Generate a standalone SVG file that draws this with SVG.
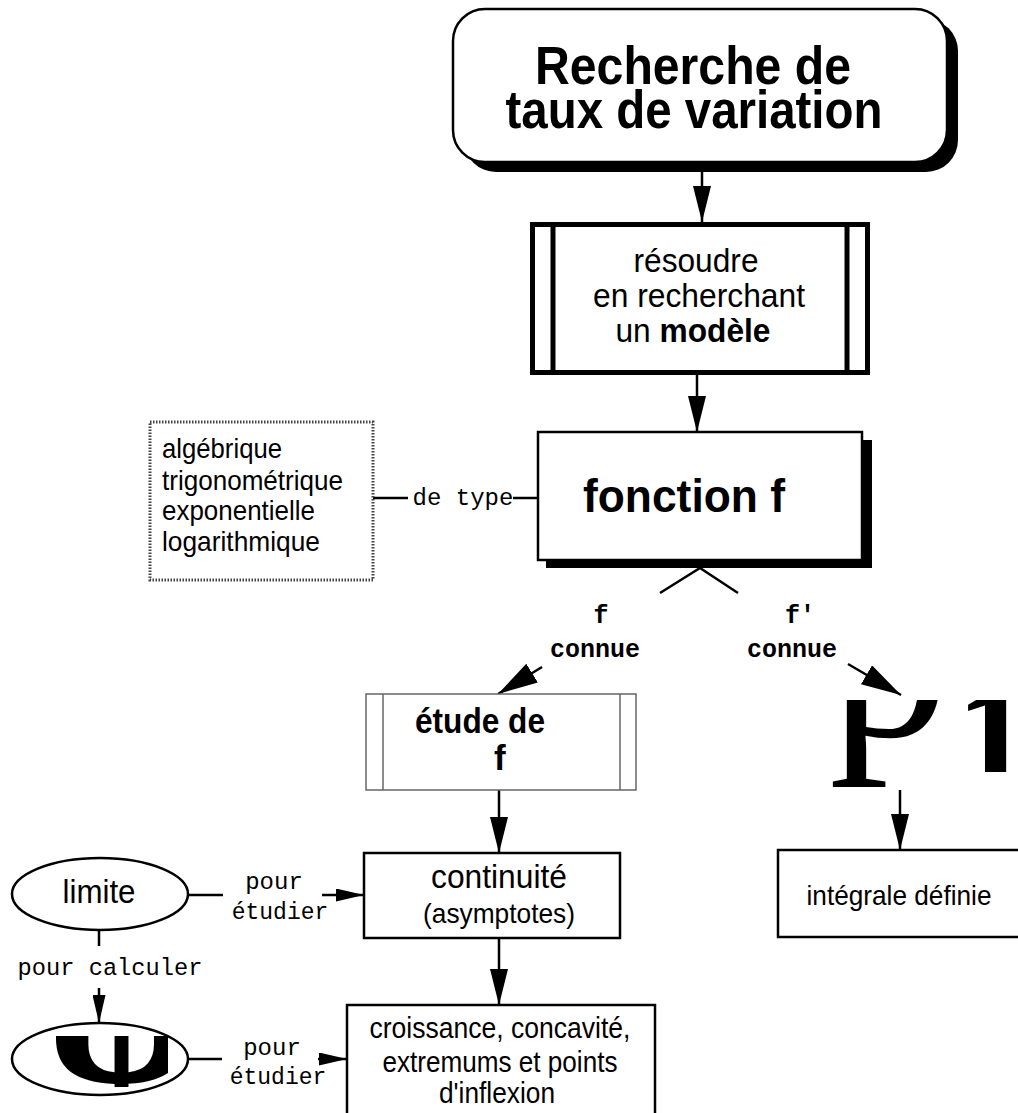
<svg xmlns="http://www.w3.org/2000/svg" width="1018" height="1113" viewBox="0 0 1018 1113">
<style>
  .sans{font-family:"Liberation Sans",Arial,sans-serif;fill:#000}
  .mono{font-family:"Liberation Mono","Courier New",monospace;fill:#000}
  .box{fill:#fff;stroke:#000;stroke-width:2.5}
  .thick{fill:none;stroke:#000;stroke-width:5}
  .thin{fill:#fff;stroke:#666;stroke-width:1.5}
  .con{fill:none;stroke:#000;stroke-width:2.5}
  .blob{font-family:"Liberation Serif","Times New Roman",serif;fill:#000}
</style>
<defs>
  <marker id="ahV" markerUnits="userSpaceOnUse" markerWidth="36" markerHeight="18" refX="36" refY="9" orient="auto">
    <path d="M0,0 L36,9 L0,18 z" fill="#000"/>
  </marker>
  <marker id="ahD" markerUnits="userSpaceOnUse" markerWidth="40" markerHeight="22" refX="40" refY="11" orient="auto">
    <path d="M0,0 L40,11 L0,22 z" fill="#000"/>
  </marker>
  <marker id="ahS" markerUnits="userSpaceOnUse" markerWidth="28" markerHeight="13" refX="28" refY="6.5" orient="auto">
    <path d="M0,0 L28,6.5 L0,13 z" fill="#000"/>
  </marker>
  <clipPath id="clipP"><rect x="820" y="700" width="135" height="90"/></clipPath>
  <clipPath id="clip1"><rect x="958" y="700" width="55" height="72"/></clipPath>
  <clipPath id="clipL"><rect x="56" y="1036" width="112" height="51"/></clipPath>
</defs>
<rect width="1018" height="1113" fill="#fff"/>

<g id="connectors">
  <line class="con" x1="702" y1="170" x2="702" y2="222" marker-end="url(#ahV)"/>
  <line class="con" x1="697" y1="375" x2="697" y2="432" marker-end="url(#ahV)"/>
  <line class="con" x1="373" y1="498" x2="408" y2="498"/>
  <line class="con" x1="513" y1="498" x2="538" y2="498"/>
  <polyline class="con" points="660,593 700,568 738,593"/>
  <line class="con" x1="542" y1="667" x2="498" y2="694" marker-end="url(#ahD)"/>
  <line class="con" x1="848" y1="664" x2="901" y2="695" marker-end="url(#ahD)"/>
  <line class="con" x1="499" y1="790" x2="499" y2="853" marker-end="url(#ahV)"/>
  <line class="con" x1="499" y1="938" x2="499" y2="1005" marker-end="url(#ahV)"/>
  <line class="con" x1="188" y1="895" x2="223" y2="895"/>
  <line class="con" x1="322" y1="895" x2="364" y2="895" marker-end="url(#ahS)"/>
  <line class="con" x1="99" y1="930" x2="99" y2="946"/>
  <line class="con" x1="99" y1="988" x2="99" y2="1023" marker-end="url(#ahS)"/>
  <line class="con" x1="188" y1="1059" x2="222" y2="1059"/>
  <line class="con" x1="318" y1="1059" x2="347" y2="1059" marker-end="url(#ahS)"/>
  <line class="con" x1="900" y1="790" x2="900" y2="850" marker-end="url(#ahV)"/>
  <text class="mono" x="463" y="505" font-size="24" text-anchor="middle">de type</text>
  <text class="mono" x="601" y="623" font-size="25" font-weight="bold" text-anchor="middle">f</text>
  <text class="mono" x="595" y="657" font-size="25" font-weight="bold" text-anchor="middle">connue</text>
  <text class="mono" x="800" y="623" font-size="25" font-weight="bold" text-anchor="middle">f'</text>
  <text class="mono" x="792" y="657" font-size="25" font-weight="bold" text-anchor="middle">connue</text>
  <text class="mono" x="274" y="889" font-size="24" text-anchor="middle">pour</text>
  <text class="mono" x="280" y="919" font-size="23" text-anchor="middle">étudier</text>
  <text class="mono" x="110" y="975" font-size="23.7" text-anchor="middle">pour calculer</text>
  <text class="mono" x="272" y="1055" font-size="24" text-anchor="middle">pour</text>
  <text class="mono" x="278" y="1084" font-size="23" text-anchor="middle">étudier</text>
</g>

<g id="n-recherche">
  <rect x="464" y="19" width="494" height="153" rx="32" fill="#000"/>
  <rect class="box" x="453" y="9" width="494" height="153" rx="32"/>
  <text class="sans" x="693" y="84" font-size="54" font-weight="bold" text-anchor="middle" textLength="316" lengthAdjust="spacingAndGlyphs">Recherche de</text>
  <text class="sans" x="694" y="128" font-size="54" font-weight="bold" text-anchor="middle" textLength="377" lengthAdjust="spacingAndGlyphs">taux de variation</text>
</g>

<g id="n-resoudre">
  <rect x="530" y="222" width="340" height="153" fill="#fff"/>
  <rect class="thick" x="532.5" y="224.5" width="335" height="148"/>
  <line class="thick" x1="553" y1="224" x2="553" y2="373"/>
  <line class="thick" x1="847" y1="224" x2="847" y2="373"/>
  <text class="sans" x="696" y="272" font-size="34" text-anchor="middle" textLength="125" lengthAdjust="spacingAndGlyphs">résoudre</text>
  <text class="sans" x="699" y="307" font-size="34" text-anchor="middle" textLength="212" lengthAdjust="spacingAndGlyphs">en recherchant</text>
  <text class="sans" x="693" y="342" font-size="34" text-anchor="middle" textLength="155" lengthAdjust="spacingAndGlyphs">un <tspan font-weight="bold">modèle</tspan></text>
</g>

<g id="n-fonction">
  <rect x="546" y="440" width="326" height="128" fill="#000"/>
  <rect class="box" x="538" y="432" width="324" height="128"/>
  <text class="sans" x="684" y="512" font-size="46" font-weight="bold" text-anchor="middle" textLength="202" lengthAdjust="spacingAndGlyphs">fonction f</text>
</g>

<g id="n-types">
  <rect x="150" y="422" width="223" height="158" fill="#fff" stroke="#444" stroke-width="3" stroke-dasharray="1.5,1.5"/>
  <text class="sans" x="162" y="458" font-size="28" textLength="120" lengthAdjust="spacingAndGlyphs">algébrique</text>
  <text class="sans" x="162" y="490" font-size="28" textLength="181" lengthAdjust="spacingAndGlyphs">trigonométrique</text>
  <text class="sans" x="162" y="520" font-size="28" textLength="153" lengthAdjust="spacingAndGlyphs">exponentielle</text>
  <text class="sans" x="162" y="551" font-size="28" textLength="158" lengthAdjust="spacingAndGlyphs">logarithmique</text>
</g>

<g id="n-etude">
  <rect class="thin" x="366" y="694" width="270" height="96"/>
  <line class="thin" x1="383" y1="694" x2="383" y2="790"/>
  <line class="thin" x1="620" y1="694" x2="620" y2="790"/>
  <text class="sans" x="415" y="733" font-size="35" font-weight="bold" textLength="130" lengthAdjust="spacingAndGlyphs">étude de</text>
  <text class="sans" x="494" y="770" font-size="35" font-weight="bold">f</text>
</g>

<g id="n-integrale-sym">
  <g clip-path="url(#clipP)">
    <text class="blob" x="829" y="736" font-size="240" font-weight="normal">p</text>
  </g>
  <g clip-path="url(#clip1)">
    <text class="blob" x="956" y="788" font-size="150" font-weight="bold">1</text>
  </g>
</g>

<g id="n-continuite">
  <rect class="box" x="364" y="853" width="256" height="85"/>
  <text class="sans" x="499" y="888" font-size="33" text-anchor="middle" textLength="136" lengthAdjust="spacingAndGlyphs">continuité</text>
  <text class="sans" x="499" y="923" font-size="28" text-anchor="middle" textLength="152" lengthAdjust="spacingAndGlyphs">(asymptotes)</text>
</g>

<g id="n-croissance">
  <rect class="box" x="347" y="1005" width="308" height="130"/>
  <text class="sans" x="500" y="1038" font-size="29" text-anchor="middle" textLength="261" lengthAdjust="spacingAndGlyphs">croissance, concavité,</text>
  <text class="sans" x="500" y="1072" font-size="29" text-anchor="middle" textLength="235" lengthAdjust="spacingAndGlyphs">extremums et points</text>
  <text class="sans" x="497" y="1103" font-size="29" text-anchor="middle" textLength="116" lengthAdjust="spacingAndGlyphs">d'inflexion</text>
</g>

<g id="n-integrale">
  <rect class="box" x="778" y="850" width="260" height="87"/>
  <text class="sans" x="899" y="905" font-size="28" text-anchor="middle" textLength="185" lengthAdjust="spacingAndGlyphs">intégrale définie</text>
</g>

<g id="n-limite">
  <ellipse class="box" cx="100" cy="894" rx="88" ry="36"/>
  <text class="sans" x="99" y="903" font-size="33" text-anchor="middle" textLength="73" lengthAdjust="spacingAndGlyphs">limite</text>
</g>

<g id="n-derivee">
  <ellipse class="box" cx="100" cy="1059" rx="88" ry="36"/>
  <g clip-path="url(#clipL)">
    <text class="blob" x="42" y="1082" font-size="230" font-weight="bold">ψ</text>
  </g>
</g>
</svg>
